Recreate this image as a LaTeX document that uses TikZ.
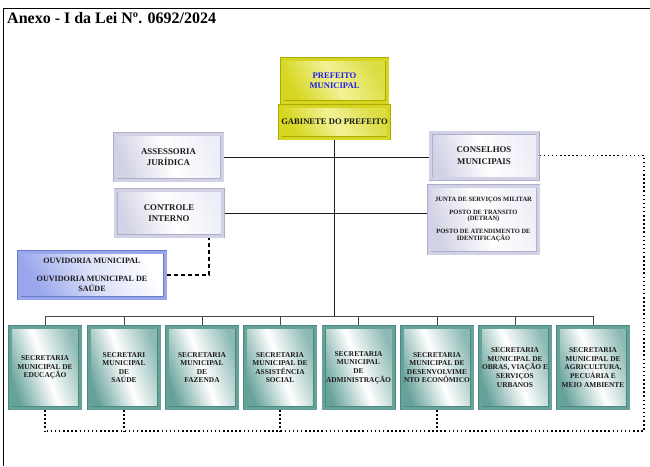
\documentclass[tikz,border=0pt]{standalone}
\usepackage{fontspec}
\setmainfont{Liberation Serif}
\usetikzlibrary{positioning}
\definecolor{goldD}{HTML}{ACAC00}
\definecolor{goldM}{HTML}{D6D622}
\definecolor{goldL}{HTML}{F2F296}
\definecolor{lavD}{HTML}{AEAEC8}
\definecolor{lavM}{HTML}{D2D2E6}
\definecolor{lavL}{HTML}{EEEEF8}
\definecolor{ouvD}{HTML}{6A7AC8}
\definecolor{ouvM}{HTML}{98A6EC}
\definecolor{tealD}{HTML}{4A8880}
\definecolor{tealM}{HTML}{66A29A}
\definecolor{prefblue}{HTML}{1E1EE6}
\definecolor{ink}{HTML}{1A1A1A}
\tikzset{
  box/.style={draw, line width=0.5pt, double distance=3pt, outer sep=2pt,
    align=center, inner sep=1pt, text=ink},
  goldbox/.style={box, draw=goldD, double=goldM, left color=goldM, right color=goldM!85!white,
    middle color=goldL, shading angle=120, minimum width=105pt,
    font=\bfseries\fontsize{8.6}{10}\selectfont},
  lavbox/.style={box, draw=lavD, double=lavM, left color=lavM, right color=lavL,
    middle color=white, shading angle=110, minimum width=107pt, minimum height=46pt,
    font=\bfseries\fontsize{8.8}{11.5}\selectfont},
  ouvbox/.style={box, draw=ouvD, double=ouvM, left color=ouvM, right color=white,
    middle color=ouvM!35!white, shading angle=120, minimum width=146pt, minimum height=46pt,
    font=\bfseries\fontsize{8.1}{10}\selectfont},
  secbox/.style={box, draw=tealD, double=tealM, left color=tealM, right color=tealM!75!white,
    middle color=white, shading angle=110, minimum width=70pt, minimum height=81pt,
    inner sep=0.5pt, font=\bfseries\fontsize{7.4}{8.6}\selectfont},
  title/.style={inner sep=0pt, font=\bfseries\fontsize{16}{18}\selectfont},
  frame/.style={draw=black, line width=1pt},
  link/.style={draw=ink, line width=1pt},
  thin/.style={draw=ink!80, line width=0.7pt},
  dashlink/.style={draw=black, line width=1.2pt, dash pattern=on 4pt off 3pt},
  dotlink/.style={draw=black, line width=1.5pt, dash pattern=on 1.5pt off 2.6pt},
}
\begin{document}
\begin{tikzpicture}[x=1pt,y=-1pt]
\useasboundingbox (0,0) rectangle (650,466);
\draw[frame] (3,466) -- (3,8) -- (650,8);
\node[title, anchor=west] (ttl) at (7,18) {Anexo - I da Lei Nº. 0692/2024};

% topo
\node[goldbox, minimum height=43pt, text=prefblue] (pref) at (334.5,80.5) {PREFEITO\\MUNICIPAL};
\node[goldbox, minimum height=32pt, below=0pt of pref] (gab) {GABINETE DO PREFEITO};

% assessoramento
\node[lavbox] (ass) at (168.5,157) {ASSESSORIA\\JURÍDICA};
\node[lavbox] (ctrl) at (169,213) {CONTROLE\\INTERNO};
\node[ouvbox] (ouv) at (92,275) {OUVIDORIA MUNICIPAL\\[8pt]OUVIDORIA MUNICIPAL DE\\SAÚDE};
\node[lavbox] (cons) at (484,155.5) {CONSELHOS\\MUNICIPAIS};
\node[lavbox, minimum width=109pt, minimum height=67pt, font=\bfseries\fontsize{6.5}{6.6}\selectfont]
  (junta) at (483.5,219.5) {JUNTA DE SERVIÇOS MILITAR\\[6pt]POSTO DE TRANSITO\\(DETRAN)\\[6pt]POSTO DE ATENDIMENTO DE\\IDENTIFICAÇÃO};

% secretarias
\node[secbox] (s1) at (45,367.5) {SECRETARIA\\MUNICIPAL DE\\EDUCAÇÃO};
\node[secbox] (s2) at (124,367.5) {SECRETARI\\MUNICIPAL\\DE\\SAÚDE};
\node[secbox] (s3) at (202,367.5) {SECRETARIA\\MUNICIPAL\\DE\\FAZENDA};
\node[secbox] (s4) at (280,367.5) {SECRETARIA\\MUNICIPAL DE\\ASSISTÊNCIA\\SOCIAL};
\node[secbox] (s5) at (358.5,367.5) {SECRETARIA\\MUNICIPAL\\DE\\ADMINISTRAÇÃO};
\node[secbox] (s6) at (437,367.5) {SECRETARIA\\MUNICIPAL DE\\DESENVOLVIME\\NTO ECONÔMICO};
\node[secbox] (s7) at (515,367.5) {SECRETARIA\\MUNICIPAL DE\\OBRAS, VIAÇÃO E\\SERVIÇOS\\URBANOS};
\node[secbox] (s8) at (593,367.5) {SECRETARIA\\MUNICIPAL DE\\AGRICULTURA,\\PECUÁRIA E\\MEIO AMBIENTE};

% ligacoes
\coordinate (bus) at (334.5,316);
\coordinate (dr) at (644,431);
\draw[link] (gab.south) -- (bus);
\draw[link] (ass.east) -- (ass.east -| cons.west);
\draw[link] (ctrl.east) -- (ctrl.east -| junta.west);
\draw[thin] (s1.north |- bus) -- (s8.north |- bus);
\draw[thin] (s1.north) -- (s1.north |- bus);
\draw[thin] (s2.north) -- (s2.north |- bus);
\draw[thin] (s3.north) -- (s3.north |- bus);
\draw[thin] (s4.north) -- (s4.north |- bus);
\draw[thin] (s5.north) -- (s5.north |- bus);
\draw[thin] (s6.north) -- (s6.north |- bus);
\draw[thin] (s7.north) -- (s7.north |- bus);
\draw[thin] (s8.north) -- (s8.north |- bus);
\draw[dashlink] (ouv.east) -| ([xshift=40pt]ctrl.south);
\draw[dotlink] (cons.east) -| (dr) -- (dr -| s1.south);
\draw[dotlink] (s1.south) -- (s1.south |- dr);
\draw[dotlink] (s2.south) -- (s2.south |- dr);
\draw[dotlink] (s4.south) -- (s4.south |- dr);
\draw[dotlink] (s6.south) -- (s6.south |- dr);
\end{tikzpicture}
\end{document}
